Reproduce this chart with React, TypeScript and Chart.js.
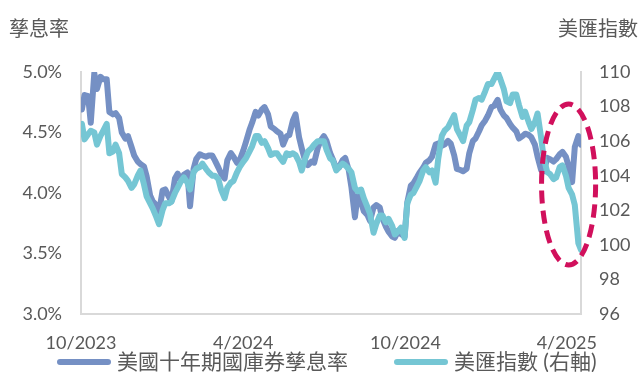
import React, { useEffect, useRef } from "react";
import { Chart, registerables } from "chart.js";

Chart.register(...registerables);

// ---- Data ----
const DATES = [
  "2023-10-02","2023-10-05","2023-10-09","2023-10-12","2023-10-16","2023-10-19","2023-10-23","2023-10-26",
  "2023-10-30","2023-11-02","2023-11-06","2023-11-09","2023-11-13","2023-11-16","2023-11-20","2023-11-23",
  "2023-11-27","2023-11-30","2023-12-04","2023-12-07","2023-12-11","2023-12-14","2023-12-18","2023-12-21",
  "2023-12-25","2023-12-28","2024-01-01","2024-01-04","2024-01-08","2024-01-11","2024-01-15","2024-01-18",
  "2024-01-22","2024-01-25","2024-01-29","2024-02-01","2024-02-05","2024-02-08","2024-02-12","2024-02-15",
  "2024-02-19","2024-02-22","2024-02-26","2024-02-29","2024-03-04","2024-03-07","2024-03-11","2024-03-14",
  "2024-03-18","2024-03-21","2024-03-25","2024-03-28","2024-04-01","2024-04-04","2024-04-08","2024-04-11",
  "2024-04-15","2024-04-18","2024-04-22","2024-04-25","2024-04-29","2024-05-02","2024-05-06","2024-05-09",
  "2024-05-13","2024-05-16","2024-05-20","2024-05-23","2024-05-27","2024-05-30","2024-06-03","2024-06-06",
  "2024-06-10","2024-06-13","2024-06-17","2024-06-20","2024-06-24","2024-06-27","2024-07-01","2024-07-04",
  "2024-07-08","2024-07-11","2024-07-15","2024-07-18","2024-07-22","2024-07-25","2024-07-29","2024-08-01",
  "2024-08-05","2024-08-08","2024-08-12","2024-08-15","2024-08-19","2024-08-22","2024-08-26","2024-08-29",
  "2024-09-02","2024-09-05","2024-09-09","2024-09-12","2024-09-16","2024-09-19","2024-09-23","2024-09-26",
  "2024-09-30","2024-10-03","2024-10-07","2024-10-10","2024-10-14","2024-10-17","2024-10-21","2024-10-24",
  "2024-10-28","2024-10-31","2024-11-04","2024-11-07","2024-11-11","2024-11-14","2024-11-18","2024-11-21",
  "2024-11-25","2024-11-28","2024-12-02","2024-12-05","2024-12-09","2024-12-12","2024-12-16","2024-12-19",
  "2024-12-23","2024-12-26","2024-12-30","2025-01-02","2025-01-06","2025-01-09","2025-01-13","2025-01-16",
  "2025-01-20","2025-01-23","2025-01-27","2025-01-30","2025-02-03","2025-02-06","2025-02-10","2025-02-13",
  "2025-02-17","2025-02-20","2025-02-24","2025-02-27","2025-03-03","2025-03-06","2025-03-10","2025-03-13",
  "2025-03-17","2025-03-20","2025-03-24","2025-03-27","2025-03-31","2025-04-03","2025-04-07","2025-04-10",
  "2025-04-14","2025-04-17",
];

// 美國十年期國庫券孳息率 (%)
const YIELD_10Y = [
  4.69, 4.81, 4.80, 4.58, 4.99, 4.86, 4.96, 4.94,
  4.94, 4.67, 4.65, 4.66, 4.62, 4.50, 4.45, 4.47,
  4.38, 4.31, 4.26, 4.24, 4.22, 4.14, 3.98, 3.93,
  3.90, 3.84, 4.02, 4.03, 3.97, 3.93, 4.12, 4.16,
  4.10, 4.15, 4.17, 3.89, 4.20, 4.28, 4.32, 4.31,
  4.30, 4.31, 4.31, 4.27, 4.21, 4.16, 4.12, 4.27,
  4.33, 4.30, 4.25, 4.27, 4.35, 4.42, 4.52, 4.58,
  4.67, 4.64, 4.69, 4.71, 4.65, 4.55, 4.53, 4.51,
  4.49, 4.40, 4.47, 4.48, 4.60, 4.65, 4.46, 4.37,
  4.26, 4.23, 4.26, 4.25, 4.37, 4.43, 4.47, 4.43,
  4.33, 4.28, 4.20, 4.21, 4.27, 4.29, 4.19, 4.05,
  3.80, 3.98, 3.92, 3.85, 3.82, 3.77, 3.88, 3.90,
  3.88, 3.79, 3.72, 3.68, 3.64, 3.63, 3.69, 3.66,
  3.64, 3.92, 4.06, 4.08, 4.13, 4.17, 4.21, 4.25,
  4.27, 4.30, 4.40, 4.41, 4.39, 4.40, 4.43, 4.41,
  4.31, 4.20, 4.19, 4.18, 4.20, 4.33, 4.43, 4.45,
  4.51, 4.56, 4.60, 4.64, 4.71, 4.72, 4.77, 4.69,
  4.64, 4.62, 4.57, 4.54, 4.51, 4.45, 4.47, 4.49,
  4.48, 4.46, 4.40, 4.30, 4.19, 4.18, 4.29, 4.28,
  4.26, 4.28, 4.32, 4.34, 4.30, 4.22, 4.09, 4.38,
  4.47, 4.40,
];

// 美匯指數 (右軸)
const DXY = [
  107.0, 106.1, 106.4, 106.6, 106.5, 105.8, 106.3, 106.6,
  107.0, 105.3, 105.4, 105.8, 105.3, 104.1, 103.9, 103.7,
  103.3, 103.5, 104.0, 104.3, 103.5, 102.8, 102.4, 102.1,
  101.6, 101.2, 102.0, 102.4, 102.4, 102.5, 103.0, 103.3,
  103.7, 103.9, 103.6, 103.2, 104.2, 104.4, 104.5, 104.7,
  104.4, 104.2, 104.0, 104.0, 103.8, 103.2, 102.7, 103.3,
  103.6, 103.7, 104.2, 104.5, 104.8, 105.0, 105.4, 105.7,
  106.3, 106.3, 105.9, 106.0, 105.6, 105.2, 105.3, 105.3,
  105.0, 104.8, 105.3, 105.2, 105.3, 105.2, 104.8, 104.3,
  105.0, 105.4, 105.6, 105.8, 106.0, 106.0, 106.0, 105.5,
  105.0, 104.9, 104.3, 104.5, 104.7, 104.6, 104.4, 104.2,
  103.3, 103.1, 103.2, 102.7, 102.2, 101.8, 100.7, 101.2,
  101.7, 101.7, 101.3, 101.5, 101.1, 100.6, 100.8, 101.0,
  100.4, 102.4, 102.9, 103.0, 103.4, 103.7, 104.3, 104.5,
  104.2, 104.3, 103.6, 105.0, 106.3, 106.6, 106.8, 107.1,
  107.5, 106.7, 106.3, 106.0, 106.9, 107.1, 107.8, 108.4,
  108.5, 108.4, 108.9, 109.3, 109.3, 109.6, 110.0, 109.6,
  109.0, 108.3, 108.2, 108.7, 108.7, 108.1, 107.4, 107.7,
  107.1, 106.7, 107.1, 107.6, 106.2, 105.0, 104.2, 104.1,
  103.8, 103.9, 104.5, 104.6, 104.0, 103.3, 102.9, 102.3,
  100.1, 99.7,
];

const SERIES_LABELS = ["美國十年期國庫券孳息率", "美匯指數 (右軸)"];
const AXIS_TITLES = ["孳息率", "美匯指數"];
const X_TICK_DATES = ["2023-10-01", "2024-04-01", "2024-10-01", "2025-04-01"];
const X_TICK_LABELS = ["10/2023", "4/2024", "10/2024", "4/2025"];
const X_RANGE = ["2023-10-01", "2025-04-17"];
const LEFT_RANGE = [3.0, 5.0, 0.5];
const RIGHT_RANGE = [96, 110, 2];

// highlighted area (dashed ellipse) in data terms
const HIGHLIGHT_DATE = "2025-04-03";
const HIGHLIGHT_HALF_DAYS = 30.5;
const HIGHLIGHT_YIELD = 4.07;
const HIGHLIGHT_HALF_YIELD = 0.665;

// ---- styling ----
const BLUE = "#7590C4";
const CYAN = "#75C6D4";
const TEXT = "#595959";
const AXIS_LINE = "#D9D9D9";
const RED = "#D1105C";
const LATIN = "Lato";
const CJK = '"Noto Sans CJK TC"';

const DAY_MS = 86400000;
function dayIndex(s: string): number {
  const [y, m, d] = s.split("-").map(Number);
  const [y0, m0, d0] = X_RANGE[0].split("-").map(Number);
  return Math.round((Date.UTC(y, m - 1, d) - Date.UTC(y0, m0 - 1, d0)) / DAY_MS);
}

const decorPlugin = {
  id: "decor",
  afterDatasetsDraw(chart: any) {
    const { ctx, scales } = chart;
    const x = scales.x;
    const y = scales.y;
    const cx = x.getPixelForValue(dayIndex(HIGHLIGHT_DATE));
    const rx = x.getPixelForValue(dayIndex(HIGHLIGHT_DATE) + HIGHLIGHT_HALF_DAYS) - cx;
    const cy = y.getPixelForValue(HIGHLIGHT_YIELD);
    const ry = cy - y.getPixelForValue(HIGHLIGHT_YIELD + HIGHLIGHT_HALF_YIELD);
    ctx.save();
    ctx.beginPath();
    ctx.ellipse(cx, cy, rx, ry, 0, 0, Math.PI * 2);
    ctx.setLineDash([13, 7]);
    ctx.lineWidth = 5;
    ctx.strokeStyle = RED;
    ctx.stroke();
    ctx.restore();
  },
  afterDraw(chart: any) {
    const { ctx, width } = chart;
    ctx.save();
    // axis titles
    ctx.fillStyle = TEXT;
    ctx.textBaseline = "middle";
    ctx.font = `20px ${CJK}`;
    ctx.textAlign = "left";
    ctx.fillText(AXIS_TITLES[0], 9, 28);
    ctx.textAlign = "right";
    ctx.fillText(AXIS_TITLES[1], width - 3, 28);

    // legend
    ctx.font = `21px ${LATIN}, ${CJK}`;
    ctx.textAlign = "left";
    const colors = [BLUE, CYAN];
    const lineLen = 48;
    const gapText = 9;
    const gapItem = 49;
    const ly = 362;
    let lx = 60;
    SERIES_LABELS.forEach((label, i) => {
      ctx.beginPath();
      ctx.lineCap = "round";
      ctx.lineWidth = 6;
      ctx.strokeStyle = colors[i];
      ctx.moveTo(lx, ly);
      ctx.lineTo(lx + lineLen, ly);
      ctx.stroke();
      ctx.fillStyle = TEXT;
      ctx.fillText(label, lx + lineLen + gapText, ly);
      lx += lineLen + gapText + ctx.measureText(label).width + gapItem;
    });
    ctx.restore();
  },
};

export default function App() {
  const canvasRef = useRef<HTMLCanvasElement | null>(null);

  useEffect(() => {
    const canvas = canvasRef.current;
    if (!canvas) return;
    const tickFont = { family: LATIN, size: 18 };
    const chart = new Chart(canvas, {
      type: "line",
      data: {
        datasets: [
          {
            label: SERIES_LABELS[0],
            data: DATES.map((d, i) => ({ x: dayIndex(d), y: YIELD_10Y[i] })),
            borderColor: BLUE,
            backgroundColor: BLUE,
            borderWidth: 6,
            borderJoinStyle: "round",
            borderCapStyle: "round",
            pointRadius: 0,
            tension: 0,
            yAxisID: "y",
            order: 2,
          },
          {
            label: SERIES_LABELS[1],
            data: DATES.map((d, i) => ({ x: dayIndex(d), y: DXY[i] })),
            borderColor: CYAN,
            backgroundColor: CYAN,
            borderWidth: 6,
            borderJoinStyle: "round",
            borderCapStyle: "round",
            pointRadius: 0,
            tension: 0,
            yAxisID: "y1",
            order: 1,
          },
        ],
      },
      options: {
        animation: false,
        responsive: false,
        maintainAspectRatio: false,
        events: [],
        layout: { padding: { top: 72, bottom: 18, left: 0, right: 0 } },
        plugins: {
          legend: { display: false },
          tooltip: { enabled: false },
          title: { display: false },
        },
        scales: {
          x: {
            type: "linear",
            min: 0,
            max: dayIndex(X_RANGE[1]),
            grid: { display: false, drawTicks: false },
            border: { display: true, color: AXIS_LINE, width: 2 },
            afterBuildTicks: (s: any) => {
              s.ticks = X_TICK_DATES.map((d) => ({ value: dayIndex(d) }));
            },
            afterFit: (s: any) => {
              s.height = 40;
            },
            ticks: {
              autoSkip: false,
              maxRotation: 0,
              padding: 18,
              color: TEXT,
              font: tickFont,
              callback: (_v: any, i: number) => X_TICK_LABELS[i],
            },
          },
          y: {
            position: "left",
            min: LEFT_RANGE[0],
            max: LEFT_RANGE[1],
            grid: { display: false, drawTicks: false },
            border: { display: true, color: AXIS_LINE, width: 2 },
            afterFit: (s: any) => {
              s.width = 81;
            },
            ticks: {
              stepSize: LEFT_RANGE[2],
              padding: 19,
              color: TEXT,
              font: tickFont,
              callback: (v: any) => Number(v).toFixed(1) + "%",
            },
          },
          y1: {
            position: "right",
            min: RIGHT_RANGE[0],
            max: RIGHT_RANGE[1],
            grid: { display: false, drawTicks: false },
            border: { display: true, color: AXIS_LINE, width: 2 },
            afterFit: (s: any) => {
              s.width = 60;
            },
            ticks: {
              stepSize: RIGHT_RANGE[2],
              padding: 18,
              color: TEXT,
              font: tickFont,
              callback: (v: any) => String(v),
            },
          },
        },
      } as any,
      plugins: [decorPlugin],
    });
    return () => chart.destroy();
  }, []);

  return (
    <div style={{ position: "fixed", left: 0, top: 0, width: 641, height: 372, background: "#fff" }}>
      <canvas ref={canvasRef} width={641} height={372} style={{ display: "block" }} />
    </div>
  );
}
